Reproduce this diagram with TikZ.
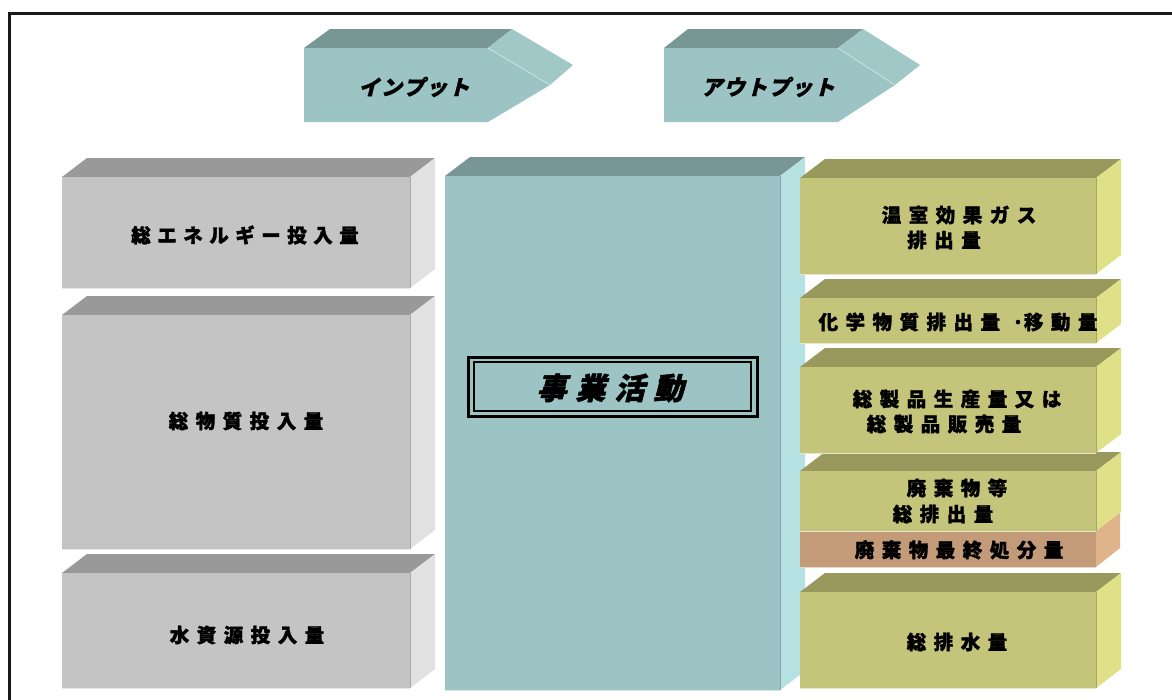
\documentclass[tikz,border=0pt]{standalone}
\usepackage{fontspec}
\newfontfamily\jp{Noto Sans CJK JP}[FakeBold=1.6]
\newfontfamily\jpit{Noto Sans CJK JP}[FakeSlant=0.25,FakeBold=1.6]
\definecolor{gfront}{HTML}{C4C4C4}
\definecolor{gtop}{HTML}{999999}
\definecolor{gside}{HTML}{E1E1E1}
\definecolor{tfront}{HTML}{9CC4C4}
\definecolor{ttop}{HTML}{779695}
\definecolor{tside}{HTML}{B5E1E2}
\definecolor{afront}{HTML}{9CC4C4}
\definecolor{atop}{HTML}{779694}
\definecolor{aside}{HTML}{A0C8C7}
\definecolor{ofront}{HTML}{C4C47A}
\definecolor{otop}{HTML}{99995E}
\definecolor{oside}{HTML}{E0E088}
\definecolor{rfront}{HTML}{C49B78}
\definecolor{rside}{HTML}{E0B48B}
\newdimen\lgap
\def\lsp#1{#1\lspx}
\def\lspx#1{\ifx#1\relax\else\hskip\lgap#1\expandafter\lspx\fi}
\newcommand\tdbox[7]{%
  \fill[#6] (#1,#2) -- (#1+25,#2-19) -- (#3+25,#2-19) -- (#3,#2) -- cycle;
  \fill[#7] (#3,#2) -- (#3+25,#2-19) -- (#3+25,#4-19) -- (#3,#4) -- cycle;
  \fill[#5] (#1,#2) rectangle (#3,#4);
  \draw[#5!85!black, line width=0.6] (#3,#2) -- (#3,#4);
  \draw[white!60!#5, line width=1] (#1,#4) -- (#3,#4);
}
\tikzset{
  lbl/.style={font=\fontsize{19.5}{22}\selectfont\jp\bfseries, inner sep=0pt},
  arr/.style={font=\fontsize{21}{24}\selectfont\jpit\bfseries, inner sep=0pt},
  biz/.style={font=\fontsize{30}{34}\selectfont\jpit\bfseries, inner sep=0pt}
}
\begin{document}
\begin{tikzpicture}[x=1pt,y=-1pt]
\useasboundingbox (0,0) rectangle (1172,699);
\fill[white] (0,0) rectangle (1172,699);
% frame
\draw[line width=3pt, black!90] (1174,13) -- (9,13) -- (9,701);
% input arrow
\fill[atop] (304,48) -- (330,29) -- (512,29) -- (488,48) -- cycle;
\fill[aside] (488,48) -- (512,29) -- (573,65) -- (550,85) -- cycle;
\fill[afront] (304,48) -- (488,48) -- (550,85) -- (488,122) -- (304,122) -- cycle;
\draw[white!50!afront, line width=0.8] (488,48) -- (550,85);
% output arrow
\fill[atop] (664,48) -- (688,29) -- (863,29) -- (838,48) -- cycle;
\fill[aside] (838,48) -- (863,29) -- (920,65) -- (895,85) -- cycle;
\fill[afront] (664,48) -- (838,48) -- (895,85) -- (838,122) -- (664,122) -- cycle;
\draw[white!50!afront, line width=0.8] (838,48) -- (895,85);
\lgap=1.5pt
\node[arr] (in) at (414,87) {\lsp インプット\relax};
\node[arr] (out) at (768,87) {\lsp アウトプット\relax};
% left gray boxes
\tdbox{62}{177}{410}{288}{gfront}{gtop}{gside}
\tdbox{62}{315}{410}{549}{gfront}{gtop}{gside}
\tdbox{62}{573}{410}{688}{gfront}{gtop}{gside}
% central
\tdbox{445}{176}{780}{690}{tfront}{ttop}{tside}
% right boxes
\tdbox{800}{592}{1096}{688}{ofront}{otop}{oside}
% orange band
\fill[rside] (1096,531) -- (1120,512) -- (1120,548) -- (1096,567) -- cycle;
\fill[rfront] (800,531) rectangle (1096,567);
\draw[white!60!rfront, line width=1] (800,567) -- (1096,567);
\tdbox{800}{471}{1096}{531}{ofront}{otop}{oside}
\tdbox{800}{367}{1096}{453}{ofront}{otop}{oside}
\tdbox{800}{298}{1096}{343}{ofront}{otop}{oside}
\tdbox{800}{178}{1096}{274}{ofront}{otop}{oside}
% business frame
\draw[line width=3pt] (468,357) rectangle (757,416);
\draw[line width=1.3pt] (474,362) rectangle (751,411);
\lgap=9pt
\node[biz] (bizt) at (610,388) {\lsp 事業活動\relax};
% labels
\lgap=6.5pt
\node[lbl] (energy) at (245,235) {\lsp 総エネルギー投入量\relax};
\lgap=7.5pt
\node[lbl] (mat) at (246,421) {\lsp 総物質投入量\relax};
\node[lbl] (water) at (247,635) {\lsp 水資源投入量\relax};
\node[lbl] (ghg1) at (959,215) {\lsp 温室効果ガス\relax};
\node[lbl] (ghg2) at (944,240) {\lsp 排出量\relax};
\node[lbl] (chem) at (958,322) {\lsp 化学物質排出量\relax\hskip 12pt·\hskip 0pt\lsp 移動量\relax};
\node[lbl] (prod1) at (957,399) {\lsp 総製品生産量又は\relax};
\node[lbl] (prod2) at (944,424) {\lsp 総製品販売量\relax};
\node[lbl] (waste1) at (957,488) {\lsp 廃棄物等\relax};
\node[lbl] (waste2) at (943,514) {\lsp 総排出量\relax};
\node[lbl] (final) at (959,550) {\lsp 廃棄物最終処分量\relax};
\node[lbl] (wout) at (957,642) {\lsp 総排水量\relax};
\end{tikzpicture}
\end{document}
